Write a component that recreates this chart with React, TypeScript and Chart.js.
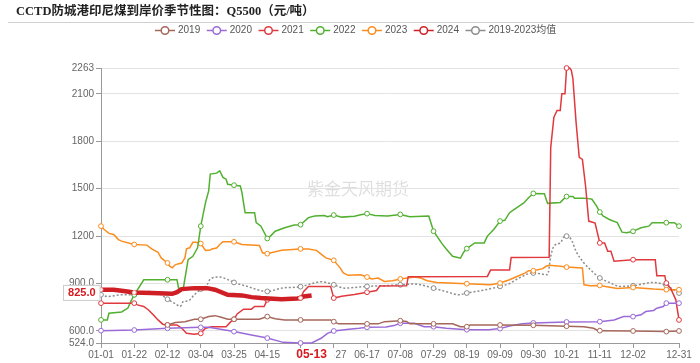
import React, { useEffect, useRef } from 'react';
import { Chart, registerables } from 'chart.js';

Chart.register(...registerables);

const TITLE = 'CCTD防城港印尼煤到岸价季节性图：Q5500（元/吨）';
const WATERMARK = '紫金天风期货';

const MONTH_LENGTHS = [31, 29, 31, 30, 31, 30, 31, 31, 30, 31, 30, 31];
const DAYS: string[] = MONTH_LENGTHS.flatMap((n, m) =>
  Array.from({ length: n }, (_, i) => `${String(m + 1).padStart(2, '0')}-${String(i + 1).padStart(2, '0')}`)
);

const X_TICK_DAYS = [0, 21, 42, 63, 84, 105, 126, 147, 168, 189, 210, 231, 252, 273, 294, 315, 336, 365];
const Y_TICKS = [524, 600, 900, 1200, 1500, 1800, 2100, 2263];
const Y_TICK_LABELS = ['524.0', '600.0', '900.0', '1200', '1500', '1800', '2100', '2263'];

const CURRENT_DAY = 133;
const CURRENT_VALUE = 825;

const SERIES_NAMES = ['2019', '2020', '2021', '2022', '2023', '2024', '2019-2023均值'];
const SERIES_COLORS = ['#a5675a', '#9a6bd8', '#e0393e', '#52b030', '#fb8c1e', '#cf1f25', '#8c8c8c'];

// [day index of year, value]
const D2019: [number, number][] = [[42,638],[47,653],[53,659],[59,674],[63,674],[68,691],[72,697],[76,687],[80,674],[84,674],[100,674],[105,691],[110,678],[116,670],[126,670],[145,670],[147,659],[150,645],[168,645],[175,645],[179,659],[189,665],[193,660],[195,645],[210,645],[222,645],[227,627],[231,627],[233,638],[252,638],[273,636],[294,630],[305,627],[311,617],[314,602],[315,602],[336,600],[357,596],[365,600]];
const D2020: [number, number][] = [[0,602],[21,606],[42,617],[63,623],[68,623],[84,596],[95,575],[105,555],[115,528],[126,524],[133,524],[139,554],[143,585],[147,600],[155,610],[163,617],[168,623],[180,625],[185,634],[189,649],[198,649],[204,627],[210,627],[218,617],[231,608],[245,608],[252,615],[258,632],[266,645],[273,651],[294,657],[315,659],[324,670],[330,691],[336,691],[341,702],[344,723],[349,730],[351,744],[355,755],[357,776],[365,776]];
const D2021: [number, number][] = [[0,776],[21,776],[23,765],[27,755],[30,733],[33,702],[36,670],[39,643],[42,638],[48,638],[51,617],[54,585],[59,579],[63,585],[66,617],[70,627],[79,627],[82,659],[84,674],[86,708],[90,738],[95,738],[97,755],[103,755],[105,797],[112,800],[120,803],[126,808],[128,850],[131,882],[145,882],[147,808],[152,820],[160,830],[168,845],[174,856],[176,884],[193,886],[194,943],[244,945],[246,985],[258,985],[259,1064],[283,1066],[284,1761],[286,1952],[288,1994],[290,1994],[291,2100],[293,2100],[294,2263],[296,2263],[297,2248],[298,2196],[300,1920],[302,1698],[304,1685],[306,1517],[308,1295],[312,1282],[315,1157],[318,1157],[320,1104],[322,1104],[324,1041],[336,1051],[350,1051],[351,950],[356,950],[357,903],[360,865],[363,797],[365,670]];
const D2022: [number, number][] = [[0,670],[4,670],[5,712],[13,720],[17,745],[19,790],[21,829],[27,924],[42,924],[48,924],[49,871],[52,871],[55,1051],[58,1072],[61,1126],[63,1263],[66,1412],[68,1486],[69,1592],[73,1598],[75,1613],[77,1571],[79,1560],[80,1528],[84,1522],[88,1517],[89,1475],[91,1348],[97,1348],[98,1285],[101,1263],[105,1185],[107,1200],[110,1231],[116,1253],[122,1270],[126,1272],[131,1317],[135,1327],[141,1330],[143,1322],[147,1333],[152,1320],[160,1325],[164,1335],[168,1342],[173,1330],[181,1327],[189,1337],[195,1322],[207,1327],[210,1231],[215,1157],[218,1119],[222,1072],[227,1060],[229,1098],[231,1121],[236,1157],[242,1157],[244,1200],[248,1242],[252,1295],[255,1300],[258,1348],[261,1369],[264,1390],[267,1410],[270,1443],[273,1470],[280,1468],[282,1407],[290,1413],[293,1443],[294,1450],[298,1450],[299,1440],[305,1440],[308,1437],[310,1433],[313,1390],[315,1352],[317,1327],[321,1305],[326,1285],[329,1225],[332,1221],[336,1230],[341,1253],[346,1263],[348,1285],[357,1285],[362,1285],[365,1263]];
const D2023: [number, number][] = [[0,1263],[2,1242],[5,1217],[8,1210],[11,1178],[13,1168],[21,1147],[29,1143],[32,1119],[36,1098],[38,1062],[42,1030],[43,1013],[45,999],[47,1020],[51,1030],[53,1062],[54,1119],[56,1126],[58,1161],[60,1161],[63,1153],[66,1109],[69,1112],[70,1119],[73,1125],[75,1147],[77,1164],[84,1164],[89,1147],[100,1141],[102,1094],[105,1089],[114,1110],[126,1119],[131,1119],[136,1110],[138,1094],[142,1062],[147,1047],[151,999],[153,967],[156,952],[164,955],[168,941],[171,929],[175,935],[179,913],[184,918],[189,929],[198,941],[202,935],[206,918],[212,907],[231,899],[246,892],[252,903],[258,924],[262,941],[268,967],[270,981],[273,981],[279,994],[281,1009],[283,1015],[290,1009],[294,1004],[304,999],[305,892],[309,886],[315,888],[326,869],[336,875],[349,865],[357,861],[365,861]];
const D2024: [number, number][] = [[0,861],[8,861],[13,854],[21,843],[32,840],[45,835],[48,845],[51,865],[59,871],[67,871],[72,861],[80,829],[89,825],[95,814],[101,808],[114,801],[124,805],[126,808],[128,818],[133,825]];
const DAVG: [number, number][] = [[0,829],[4,818],[13,829],[21,829],[30,850],[36,840],[42,801],[47,772],[50,755],[52,786],[55,790],[59,829],[63,865],[67,892],[69,929],[75,941],[80,925],[84,907],[91,886],[105,850],[114,871],[126,880],[133,899],[139,911],[143,905],[147,892],[154,871],[160,875],[168,882],[178,886],[189,892],[198,897],[210,871],[219,846],[226,829],[231,840],[240,855],[252,882],[258,900],[264,935],[273,967],[282,956],[284,1072],[286,1136],[290,1157],[293,1200],[294,1200],[297,1178],[300,1104],[305,1030],[309,988],[315,935],[321,907],[328,882],[336,886],[349,907],[357,886],[365,840]];

const SERIES_DATA = [D2019, D2020, D2021, D2022, D2023, D2024, DAVG];

const FONT = '"Liberation Sans", "Noto Sans CJK SC", sans-serif';

const isMarker = (i: number) => i % 21 === 0 || i === 365;

const decor = {
  id: 'decor',
  beforeDraw(chart: any) {
    const { ctx, width, height } = chart;
    ctx.save();
    ctx.fillStyle = '#fff';
    ctx.fillRect(0, 0, width, height);
    ctx.font = 'bold 12.5px "Liberation Serif", "Noto Sans CJK SC", serif';
    ctx.fillStyle = '#222';
    ctx.textBaseline = 'middle';
    ctx.textAlign = 'left';
    ctx.fillText(TITLE, 16, 11.5);
    ctx.strokeStyle = '#d0d0d0';
    ctx.lineWidth = 1;
    ctx.beginPath();
    ctx.moveTo(8, 22.5);
    ctx.lineTo(694, 22.5);
    ctx.stroke();
    ctx.font = '10px ' + FONT;
    let x = 155;
    const y = 30.5;
    SERIES_NAMES.forEach((name, i) => {
      const c = SERIES_COLORS[i];
      ctx.strokeStyle = c;
      ctx.lineWidth = 1.5;
      ctx.beginPath();
      ctx.moveTo(x, y);
      ctx.lineTo(x + 20, y);
      ctx.stroke();
      ctx.beginPath();
      ctx.arc(x + 10, y, 3.8, 0, Math.PI * 2);
      ctx.fillStyle = '#fff';
      ctx.fill();
      ctx.stroke();
      ctx.fillStyle = '#555';
      ctx.fillText(name, x + 23, y);
      x += 23 + ctx.measureText(name).width + 6.5;
    });
    ctx.font = '17px "Noto Sans CJK SC", sans-serif';
    ctx.fillStyle = 'rgba(0,0,0,0.13)';
    ctx.fillText(WATERMARK, 307, 189);
    ctx.restore();
  },
  afterDraw(chart: any) {
    const { ctx } = chart;
    const ys = chart.scales.y;
    const xs = chart.scales.x;
    ctx.save();
    const py = ys.getPixelForValue(CURRENT_VALUE) - 2.5;
    ctx.fillStyle = '#fff';
    ctx.strokeStyle = '#cccccc';
    ctx.lineWidth = 1;
    ctx.fillRect(63.5, py - 7.5, 36.5, 15);
    ctx.strokeRect(63.5, py - 7.5, 36.5, 15);
    ctx.font = 'bold 11px ' + FONT;
    ctx.fillStyle = '#d7191f';
    ctx.textAlign = 'center';
    ctx.textBaseline = 'middle';
    ctx.fillText(CURRENT_VALUE.toFixed(1), 81.8, py + 0.5);
    const px = xs.getPixelForValue(CURRENT_DAY);
    ctx.fillStyle = '#fff';
    ctx.fillRect(px - 25, 348.5, 48, 14);
    ctx.font = 'bold 12px ' + FONT;
    ctx.fillStyle = '#d7191f';
    ctx.fillText(DAYS[CURRENT_DAY], px, 355);
    ctx.restore();
  },
};

export default function App() {
  const ref = useRef<HTMLCanvasElement>(null);
  useEffect(() => {
    if (!ref.current) return;
    const datasets = SERIES_DATA.map((arr, i) => {
      const isAvg = i === 6;
      const is2024 = i === 5;
      return {
        label: SERIES_NAMES[i],
        data: arr.map(([d, v]) => ({ x: DAYS[d], y: v })),
        borderColor: SERIES_COLORS[i],
        backgroundColor: '#fff',
        borderWidth: is2024 ? 4.5 : 1.5,
        borderDash: isAvg ? [2, 2] : [],
        cubicInterpolationMode: isAvg ? 'monotone' : 'default',
        tension: isAvg ? 0.4 : 0,
        pointRadius: (c: any) => (c.parsed && isMarker(c.parsed.x) ? (is2024 ? 2 : 2.4) : 0),
        pointBorderWidth: 1,
        pointBorderColor: is2024 ? '#f0a0a0' : SERIES_COLORS[i],
        pointBackgroundColor: '#fff',
        fill: false,
        clip: 8,
        order: is2024 ? -1 : i,
      };
    });
    const chart = new Chart(ref.current, {
      type: 'line',
      data: { labels: DAYS, datasets: datasets as any },
      plugins: [decor],
      options: {
        animation: false,
        responsive: false,
        events: [],
        layout: { padding: { top: 68, right: 21, left: 0, bottom: 0 } },
        plugins: {
          legend: { display: false },
          title: { display: false },
          tooltip: { enabled: false },
        },
        scales: {
          x: {
            type: 'category',
            offset: false,
            bounds: 'ticks',
            afterBuildTicks: (s: any) => {
              s.ticks = X_TICK_DAYS.map((v) => ({ value: v }));
            },
            afterFit: (s: any) => {
              s.height = 20;
            },
            ticks: {
              autoSkip: false,
              maxRotation: 0,
              minRotation: 0,
              padding: 1,
              color: '#666',
              font: { size: 10, family: FONT },
              callback: (v: any) => (v === 126 ? '' : DAYS[v]),
            },
            grid: { display: true, drawOnChartArea: false, drawTicks: true, tickLength: 5, color: '#999' },
            border: { display: true, color: '#999' },
          },
          y: {
            type: 'linear',
            min: 524,
            max: 2263,
            afterBuildTicks: (s: any) => {
              s.ticks = Y_TICKS.map((v) => ({ value: v }));
            },
            afterFit: (s: any) => {
              s.width = 101;
            },
            ticks: {
              padding: 2,
              color: '#666',
              font: { size: 10, family: FONT },
              callback: (v: any) => Y_TICK_LABELS[Y_TICKS.indexOf(v)],
            },
            grid: { color: '#e3e3e3', tickColor: '#999', tickLength: 5, drawTicks: true },
            border: { display: true, color: '#999' },
          },
        },
      } as any,
    });
    return () => chart.destroy();
  }, []);
  return (
    <div style={{ position: 'absolute', left: 0, top: 0, width: 700, height: 363 }}>
      <canvas ref={ref} width={700} height={363} />
    </div>
  );
}
